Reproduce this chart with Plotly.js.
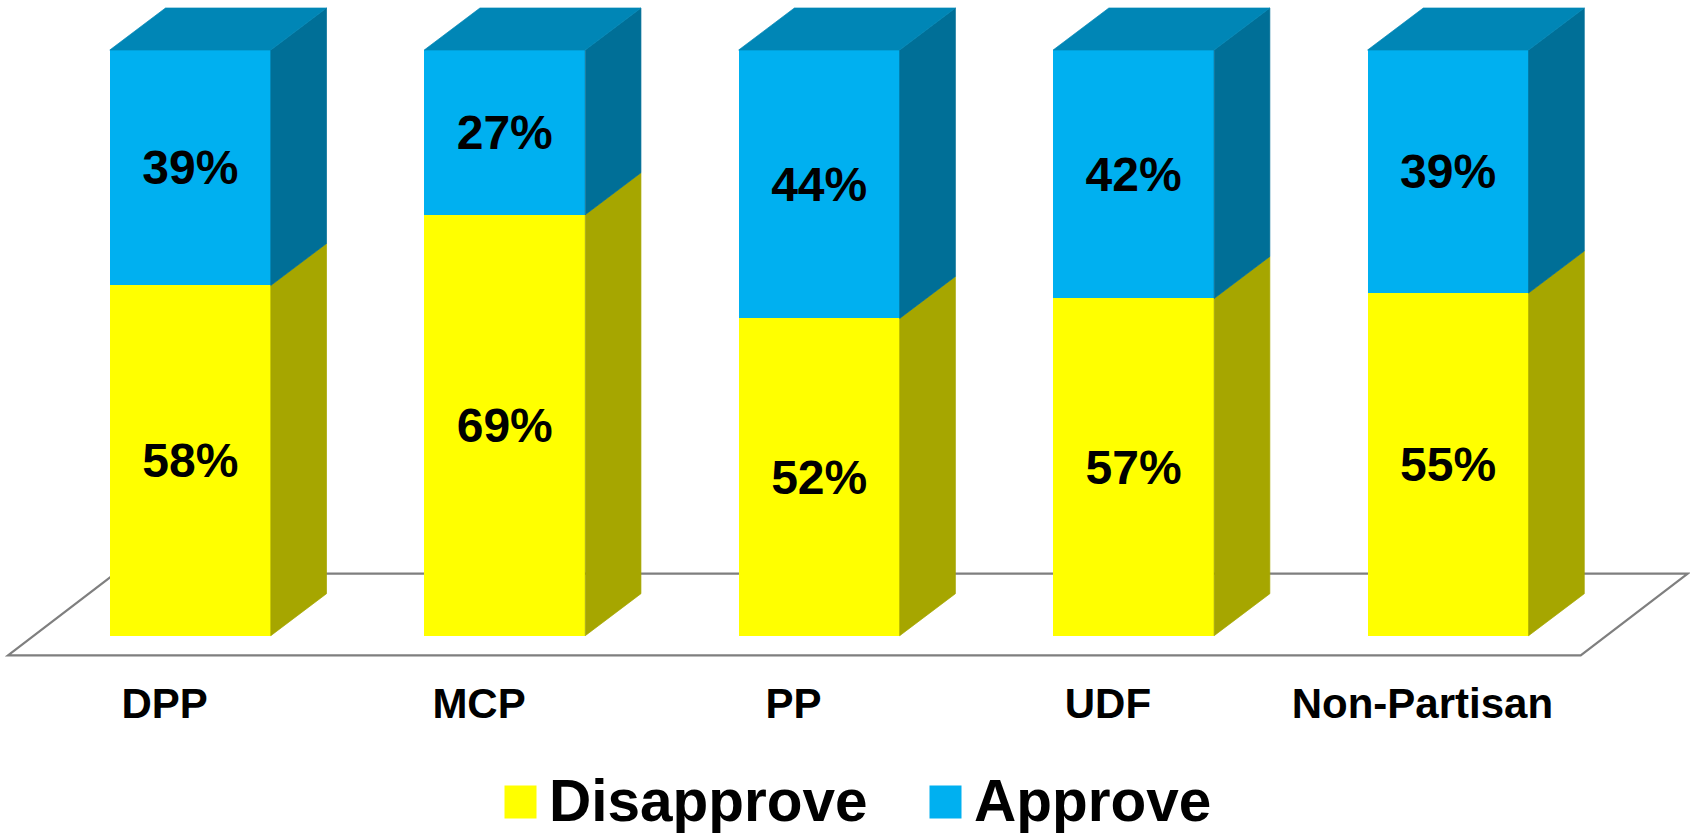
<!DOCTYPE html>
<html>
<head>
<meta charset="utf-8">
<script src="https://cdn.plot.ly/plotly-3.0.1.min.js"></script>
<style>html,body{margin:0;padding:0;background:#fff}#chart{width:1690px;height:835px}</style>
</head>
<body>
<div id="chart"></div>
<script>
const categories = ['DPP', 'MCP', 'PP', 'UDF', 'Non-Partisan'];
const disapprove = [58, 69, 52, 57, 55];
const approve = [39, 27, 44, 42, 39];

const FONT = '"Liberation Sans", Arial, sans-serif';
const W = 1690, H = 835;
const plotBottomPx = 665;          // bottom of the plotting area
const pxPerX = 314.45, tick0Px = 164.6;
const pxPerY = 5.857, zeroPx = 635.7;
const barWidth = 161 / pxPerX;
const barShift = 25.7 / pxPerX;    // bars stand a little way into the floor
const depthX = 55.7 / pxPerX, depthY = 42 / pxPerY;

const ticks = categories.map((_, i) => i);
const centers = ticks.map(i => i + barShift);
const totals = disapprove.map((d, i) => d + approve[i]);
const dNorm = disapprove.map((d, i) => d / totals[i] * 100);

function sideFaces(lower, upper) {
  const xs = [], ys = [];
  centers.forEach((c, i) => {
    const r = c + barWidth / 2;
    xs.push(r, r + depthX, r + depthX, r, r, null);
    ys.push(lower[i], lower[i] + depthY, upper[i] + depthY, upper[i], lower[i], null);
  });
  return {x: xs, y: ys};
}
function topFaces(level) {
  const xs = [], ys = [];
  centers.forEach((c) => {
    const l = c - barWidth / 2, r = c + barWidth / 2;
    xs.push(l, r, r + depthX, l + depthX, l, null);
    ys.push(level, level, level + depthY, level + depthY, level, null);
  });
  return {x: xs, y: ys};
}
function face(points, color) {
  return {type: 'scatter', mode: 'lines', x: points.x, y: points.y, fill: 'toself',
    fillcolor: color, line: {width: 0.7, color: color}, showlegend: false, hoverinfo: 'skip'};
}
function bars(name, values, color) {
  return {type: 'bar', name: name, x: centers, y: values, width: barWidth,
    marker: {color: color, line: {width: 0}},
    text: values.map(v => v + '%'), textposition: 'inside', insidetextanchor: 'middle',
    textangle: 0, constraintext: 'none',
    textfont: {family: FONT, size: 48, color: '#000', weight: 700},
    hovertemplate: name + ': %{text}<extra></extra>'};
}

const zeros = ticks.map(() => 0);
const hundreds = ticks.map(() => 100);
const data = [
  bars('Disapprove', disapprove, '#FFFF00'),
  bars('Approve', approve, '#00B0F0'),
  face(sideFaces(zeros, dNorm), '#A6A600'),
  face(sideFaces(dNorm, hundreds), '#006F97'),
  face(topFaces(100), '#0086B6')
];

const floorY0 = -19.6 / pxPerY, floorY1 = floorY0 + 81.6 / pxPerY;
const floorX0 = (8 - tick0Px) / pxPerX, floorX1 = (1580.7 - tick0Px) / pxPerX;
const floorDX = 107 / pxPerX;

const layout = {
  width: W, height: H,
  paper_bgcolor: '#fff', plot_bgcolor: 'rgba(0,0,0,0)',
  margin: {l: 0, r: 0, t: 0, b: H - plotBottomPx, pad: 0, autoexpand: false},
  barmode: 'stack', barnorm: 'percent',
  showlegend: true,
  legend: {orientation: 'h', traceorder: 'normal', xref: 'container', yref: 'container',
    x: 496 / W, xanchor: 'left', y: 1 - 754 / H, yanchor: 'top',
    font: {family: FONT, size: 58.5, color: '#000', weight: 700},
    itemwidth: 43, entrywidth: 367, entrywidthmode: 'pixels', bgcolor: 'rgba(0,0,0,0)', itemclick: false, itemdoubleclick: false},
  xaxis: {type: 'linear', range: [-tick0Px / pxPerX, (W - tick0Px) / pxPerX], tickmode: 'array', tickvals: ticks, ticktext: categories,
    showgrid: false, zeroline: false, showline: false, ticks: 'outside', ticklen: 2, tickcolor: 'rgba(0,0,0,0)',
    tickfont: {family: FONT, size: 42, color: '#000', weight: 700}, fixedrange: true},
  yaxis: {range: [(zeroPx - plotBottomPx) / pxPerY, zeroPx / pxPerY], visible: false, showgrid: false, zeroline: false, fixedrange: true},
  shapes: [{type: 'path', layer: 'below', xref: 'x', yref: 'y',
    path: 'M' + floorX0 + ',' + floorY0 + ' L' + floorX1 + ',' + floorY0 + ' L' + (floorX1 + floorDX) + ',' + floorY1 +
          ' L' + (floorX0 + floorDX) + ',' + floorY1 + ' Z',
    line: {color: '#7F7F7F', width: 2.2}, fillcolor: 'rgba(0,0,0,0)'}]
};

Plotly.newPlot('chart', data, layout, {displayModeBar: false, responsive: false}).then(() => {
  document.querySelectorAll('#chart .legend .legendpoints path').forEach(p => {
    p.setAttribute('d', 'M14,20H-18V-13H14Z');
  });
});
</script>
</body>
</html>
